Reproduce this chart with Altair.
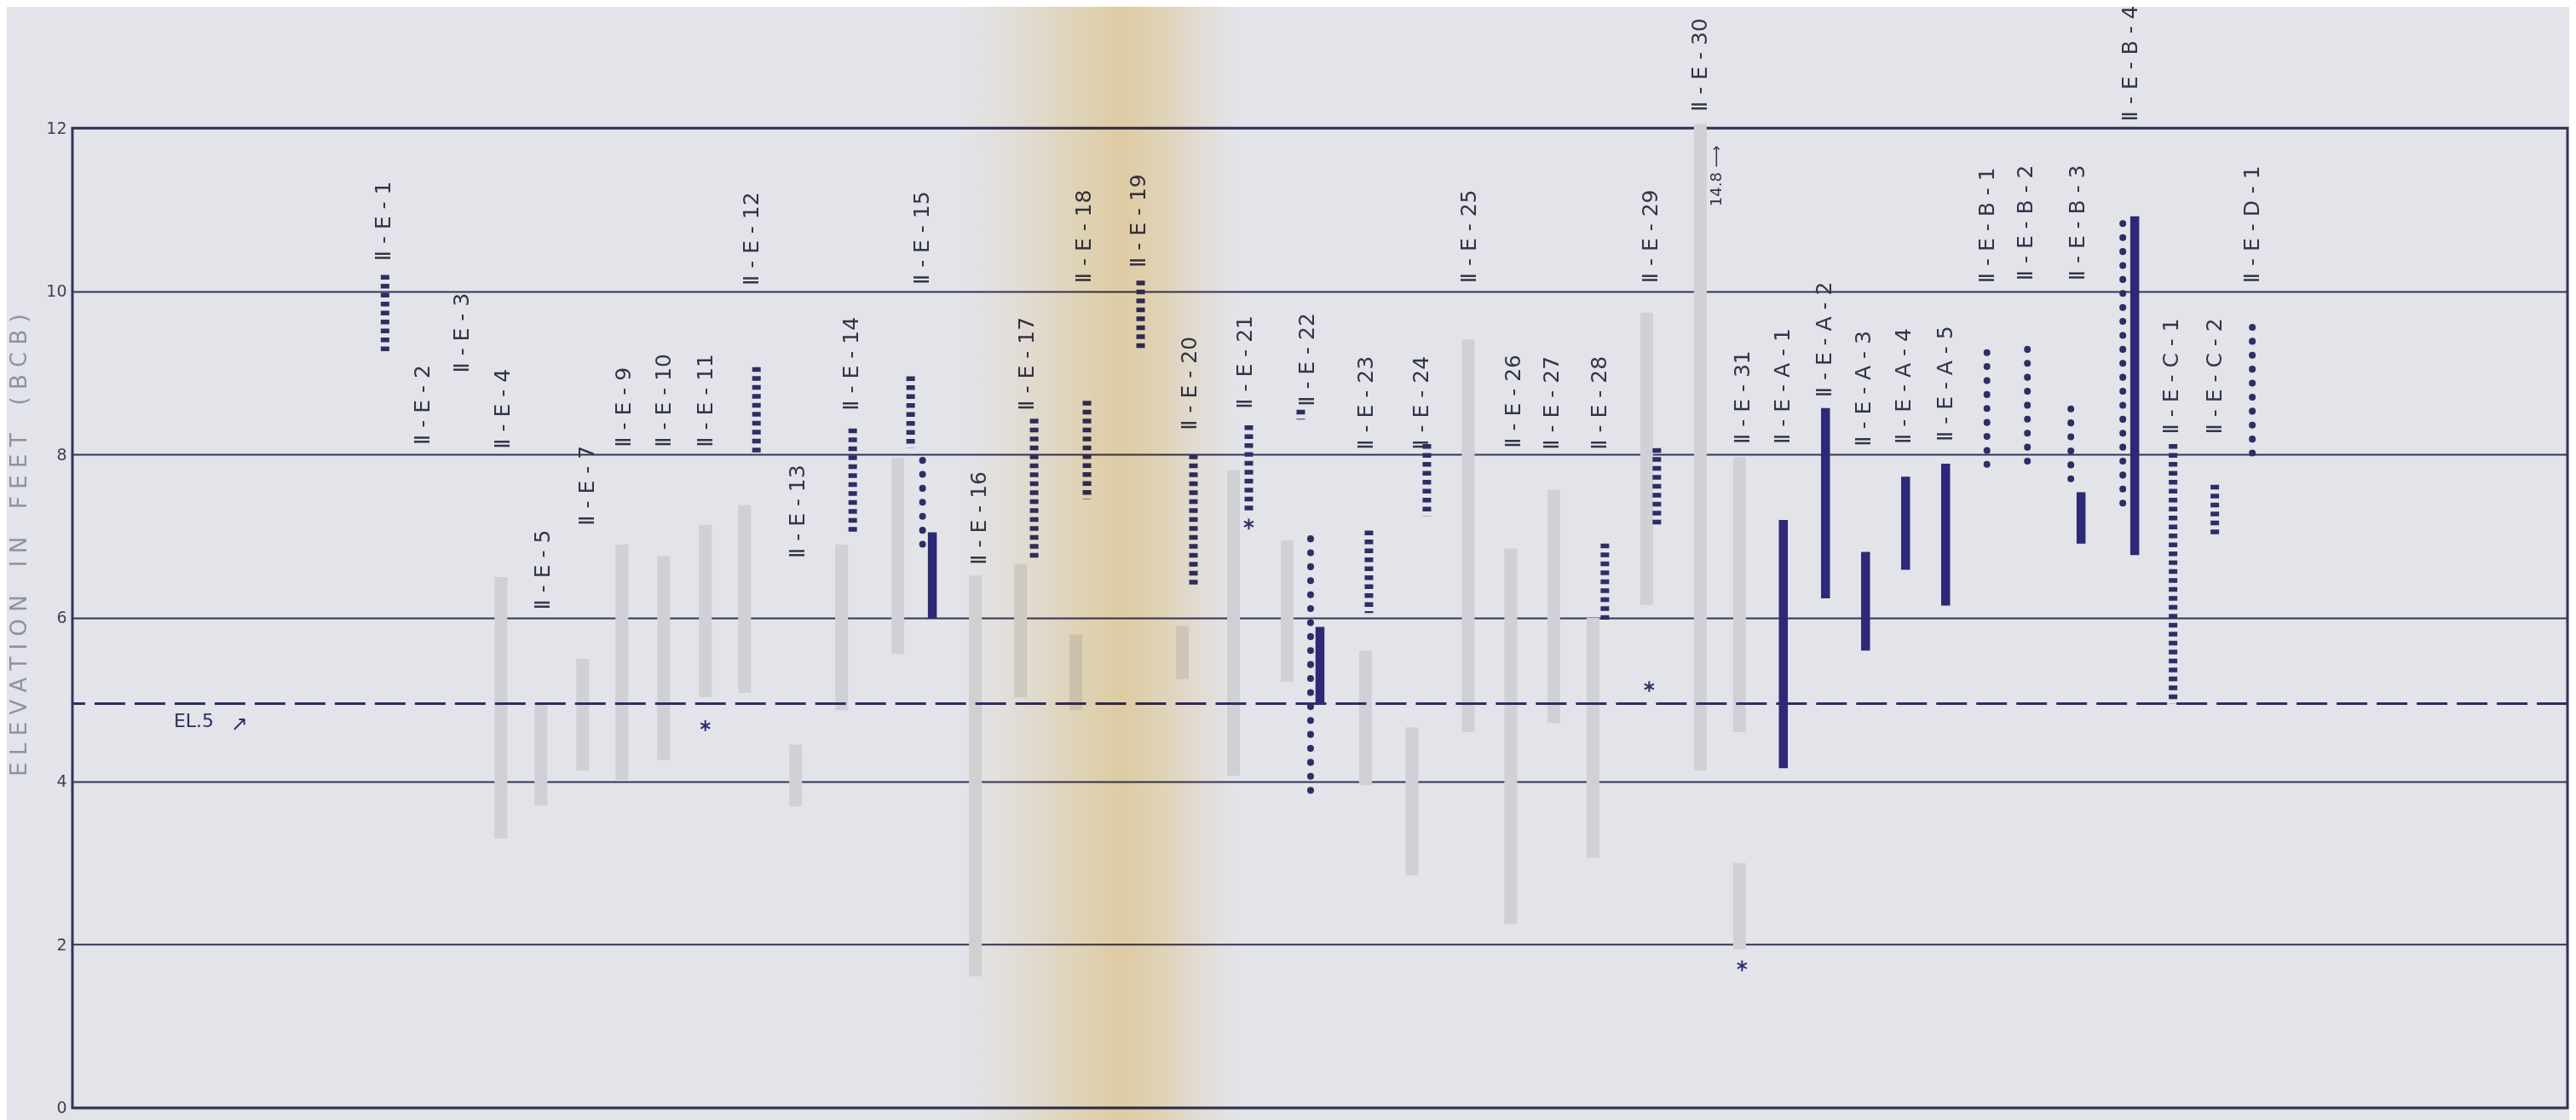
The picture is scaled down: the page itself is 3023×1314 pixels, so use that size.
import altair as alt
import pandas as pd

# ---------------- data ----------------
# boring names, their position along the section and the elevation where the name starts
label_names = ["II-E-1", "II-E-2", "II-E-3", "II-E-4", "II-E-5", "II-E-7", "II-E-9", "II-E-10",
               "II-E-11", "II-E-12", "II-E-13", "II-E-14", "II-E-15", "II-E-16", "II-E-17",
               "II-E-18", "II-E-19", "II-E-20", "II-E-21", "II-E-22", "II-E-23", "II-E-24",
               "II-E-25", "II-E-26", "II-E-27", "II-E-28", "II-E-29", "II-E-30", "II-E-31",
               "II-E-A-1", "II-E-A-2", "II-E-A-3", "II-E-A-4", "II-E-A-5", "II-E-B-1",
               "II-E-B-2", "II-E-B-3", "II-E-B-4", "II-E-C-1", "II-E-C-2", "II-E-D-1"]
label_station = [36.5, 41.1, 45.7, 50.5, 55.2, 60.4, 64.7, 69.4, 74.3, 79.7, 85.1, 91.4, 99.7,
                 106.4, 112.0, 118.7, 125.1, 131.1, 137.6, 145.0, 151.9, 158.4, 164.0, 169.2,
                 173.7, 179.3, 185.3, 191.1, 196.1, 200.8, 205.7, 210.3, 215.0, 219.9, 224.8,
                 229.3, 235.4, 241.6, 246.4, 251.5, 255.9]
label_base = [10.37, 8.12, 9.0, 8.07, 6.1, 7.13, 8.09, 8.09, 8.09, 10.07, 6.73, 8.54, 10.08,
              6.65, 8.54, 10.1, 10.29, 8.3, 8.56, 8.59, 8.06, 8.06, 10.1, 8.08, 8.06, 8.06,
              10.1, 12.2, 8.13, 8.13, 8.7, 8.1, 8.13, 8.16, 10.1, 10.13, 10.13, 12.08, 8.25,
              8.25, 10.1]

# sampled intervals (elevation in feet, BCB)
seg_boring = ["II-E-1", "II-E-12", "II-E-14", "II-E-15", "II-E-15", "II-E-15", "II-E-17",
              "II-E-18", "II-E-19", "II-E-20", "II-E-21", "II-E-22", "II-E-22", "II-E-22",
              "II-E-23", "II-E-24", "II-E-28", "II-E-29", "II-E-A-1", "II-E-A-2", "II-E-A-3",
              "II-E-A-4", "II-E-A-5", "II-E-B-1", "II-E-B-2", "II-E-B-3", "II-E-B-3",
              "II-E-B-4", "II-E-B-4", "II-E-C-1", "II-E-C-2", "II-E-D-1"]
seg_station = [36.7, 80.3, 91.6, 98.4, 99.8, 100.95, 112.9, 119.1, 125.4, 131.6, 138.1, 144.2,
               145.35, 146.45, 152.2, 159.0, 179.9, 186.0, 200.85, 205.8, 210.5, 215.2, 219.9,
               224.75, 229.5, 234.6, 235.8, 240.7, 242.1, 246.6, 251.5, 255.9]
seg_top = [10.2, 9.07, 8.32, 8.96, 7.93, 7.05, 8.44, 8.66, 10.13, 8.0, 8.36, 8.55, 6.97, 5.89,
           7.07, 8.13, 6.91, 8.08, 7.2, 8.57, 6.81, 7.73, 7.89, 9.25, 9.29, 8.56, 7.54, 10.83,
           10.92, 8.13, 7.63, 9.56]
seg_bottom = [9.24, 8.0, 7.02, 8.08, 6.87, 6.0, 6.69, 7.45, 9.28, 6.4, 7.28, 8.43, 3.75, 4.96,
              6.06, 7.25, 5.98, 7.12, 4.16, 6.24, 5.6, 6.59, 6.15, 7.88, 7.92, 7.54, 6.91, 7.26,
              6.77, 4.95, 7.0, 8.0]
seg_kind = ["hatched", "hatched", "hatched", "hatched", "dotted", "solid", "hatched", "hatched",
            "hatched", "hatched", "hatched", "hatched", "dotted", "solid", "hatched", "hatched",
            "hatched", "hatched", "solid", "solid", "solid", "solid", "solid", "dotted",
            "dotted", "dotted", "solid", "dotted", "solid", "hatched", "hatched", "dotted"]

# asterisk marks
star_station = [74.3, 138.1, 185.1, 196.0]
star_elev = [4.68, 7.15, 5.16, 1.74]

# faint show-through bars from the reverse of the sheet
ghost_station = [64.5, 69.4, 74.3, 78.9, 90.3, 96.9, 106.0, 111.3, 55.0, 50.3, 59.9, 84.9,
                 117.8, 136.3, 142.6, 130.3, 163.85, 168.85, 173.9, 178.5, 184.8, 191.1,
                 195.7, 195.7, 157.25, 151.8]
ghost_top = [6.9, 6.76, 7.14, 7.38, 6.9, 7.96, 6.52, 6.66, 4.96, 6.5, 5.5, 4.45, 5.8, 7.81,
             6.95, 5.9, 9.41, 6.85, 7.57, 6.0, 9.74, 12.05, 7.97, 3.0, 4.66, 5.6]
ghost_bottom = [4.02, 4.26, 5.03, 5.08, 4.87, 5.56, 1.61, 5.03, 3.7, 3.3, 4.13, 3.69, 4.87,
                4.07, 5.22, 5.25, 4.6, 2.25, 4.71, 3.06, 6.16, 4.13, 4.6, 1.94, 2.85, 3.95]

# reference elevation line
el_elev = [4.95]
el_text = ["EL.5"]
el_text_station = [11.9]
el_text_elev = [4.66]
arrow_station = [19.6]
arrow_elev = [4.7]

# off-scale note for II-E-30
note_text = ["14.8  \u27f6"]
note_station = [193.1]
note_elev = [11.04]

# paper stain
stain_from = [104.5]
stain_to = [136.5]

y_ticks = [0, 2, 4, 6, 8, 10, 12]
y_title_words = ["ELEVATION", "IN", "FEET", "(BCB)"]

# ---------------- styling ----------------
FONT = "DejaVu Sans"
PAPER = "#e3e4e9"
NAVY = "#2f2d66"
SOLID = "#2c2977"
FRAME = "#34345a"
TEXT = "#34344a"

W, H = 2929, 1150


def pretty(name):
    return name.replace("II", "\u2161").replace("-", " - ")


# letter-spaced title; non-breaking spaces keep the wide word gaps
y_title = ("\u00a0" * 4).join(" ".join(list(w)) for w in y_title_words)

labels_df = pd.DataFrame({"name": [pretty(n) for n in label_names],
                          "s": label_station, "elev": label_base})
seg_df = pd.DataFrame({"boring": seg_boring, "s": seg_station, "elev": seg_top,
                       "elev2": seg_bottom, "kind": seg_kind})
star_df = pd.DataFrame({"s": star_station, "elev": star_elev})
ghost_df = pd.DataFrame({"s": ghost_station, "elev": ghost_top, "elev2": ghost_bottom})
el_df = pd.DataFrame({"elev": el_elev})
el_text_df = pd.DataFrame({"t": el_text, "s": el_text_station, "elev": el_text_elev})
arrow_df = pd.DataFrame({"t": ["\u2197"], "s": arrow_station, "elev": arrow_elev})
note_df = pd.DataFrame({"t": note_text, "s": note_station, "elev": note_elev})
stain_df = pd.DataFrame({"s0": stain_from, "s1": stain_to})

xs = alt.Scale(domain=[0, 292.9], nice=False, zero=False)
ys = alt.Scale(domain=[0, 12], nice=False, zero=False)

yaxis = alt.Axis(
    values=y_ticks, grid=True, gridColor=FRAME, gridWidth=2, gridOpacity=1,
    domain=False, ticks=False, labelFont=FONT, labelFontSize=19, labelColor="#3f3f52",
    labelPadding=7,
    title=y_title,
    titleFont=FONT, titleFontSize=26, titleFontWeight="normal", titleColor="#8e91a3",
    titleAngle=270, titleX=-62, titleY=489, titleAlign="center", titleBaseline="middle",
)


def X(f):
    return alt.X(f"{f}:Q", scale=xs, axis=None)


def Y(f):
    return alt.Y(f"{f}:Q", scale=ys, axis=yaxis)


ghosts = alt.Chart(ghost_df).mark_rule(strokeWidth=15, color="#d0d1d6", strokeCap="butt").encode(
    x=X("s"), y=Y("elev"), y2="elev2")

el_line = alt.Chart(el_df).mark_rule(color=NAVY, strokeWidth=3, strokeDash=[36, 11]).encode(
    y=Y("elev"))

hatched = alt.Chart(seg_df).transform_filter(alt.datum.kind == "hatched").mark_rule(
    color=NAVY, strokeWidth=10, strokeDash=[5.5, 5], strokeCap="butt").encode(
    x=X("s"), y=Y("elev"), y2="elev2")

dotted = alt.Chart(seg_df).transform_filter(alt.datum.kind == "dotted").mark_rule(
    color=NAVY, strokeWidth=8, strokeDash=[0.1, 16.3], strokeCap="round").encode(
    x=X("s"), y=Y("elev"), y2="elev2")

solid = alt.Chart(seg_df).transform_filter(alt.datum.kind == "solid").mark_rule(
    color=SOLID, strokeWidth=10.5, strokeCap="butt").encode(
    x=X("s"), y=Y("elev"), y2="elev2")

stars = alt.Chart(star_df).mark_point(
    shape="M0,-1L0,1M-0.87,-0.5L0.87,0.5M-0.87,0.5L0.87,-0.5",
    size=160, strokeWidth=2, filled=False, color=NAVY, opacity=1).encode(
    x=X("s"), y=Y("elev"))

labels = alt.Chart(labels_df).mark_text(
    angle=270, align="left", baseline="middle", font=FONT, fontSize=25, color=TEXT).encode(
    x=X("s"), y=Y("elev"), text="name:N")

el_label = alt.Chart(el_text_df).mark_text(
    align="left", baseline="alphabetic", font=FONT, fontSize=22, color=NAVY).encode(
    x=X("s"), y=Y("elev"), text="t:N")

arrow = alt.Chart(arrow_df).mark_text(
    align="center", baseline="middle", font=FONT, fontSize=24, color=NAVY).encode(
    x=X("s"), y=Y("elev"), text="t:N")

note = alt.Chart(note_df).mark_text(
    angle=270, align="left", baseline="middle", font=FONT, fontSize=18, color=TEXT).encode(
    x=X("s"), y=Y("elev"), text="t:N")

stain = alt.Chart(stain_df).mark_rect(
    blend="multiply",
    color=alt.Gradient(
        gradient="linear", x1=0, x2=1, y1=0, y2=0,
        stops=[
            alt.GradientStop(color="#ffffff", offset=0),
            alt.GradientStop(color="#fdf7ea", offset=0.2),
            alt.GradientStop(color="#fbecc9", offset=0.42),
            alt.GradientStop(color="#fae4b2", offset=0.58),
            alt.GradientStop(color="#fbebc7", offset=0.72),
            alt.GradientStop(color="#fdf6e8", offset=0.87),
            alt.GradientStop(color="#ffffff", offset=1),
        ],
    ),
).encode(x=X("s0"), x2=alt.X2("s1:Q"), y=alt.value(-150), y2=alt.value(H + 20))

chart = alt.layer(
    ghosts, el_line, hatched, dotted, solid, stars, labels, el_label, arrow, note, stain
).properties(
    width=W, height=H,
    autosize=alt.AutoSizeParams(type="none"),
    padding={"left": 77, "top": 142, "right": 2, "bottom": 14},
).configure(background=PAPER).configure_view(stroke=FRAME, strokeWidth=3)

chart.save("out.html", embed_options={"renderer": "svg", "actions": False})
